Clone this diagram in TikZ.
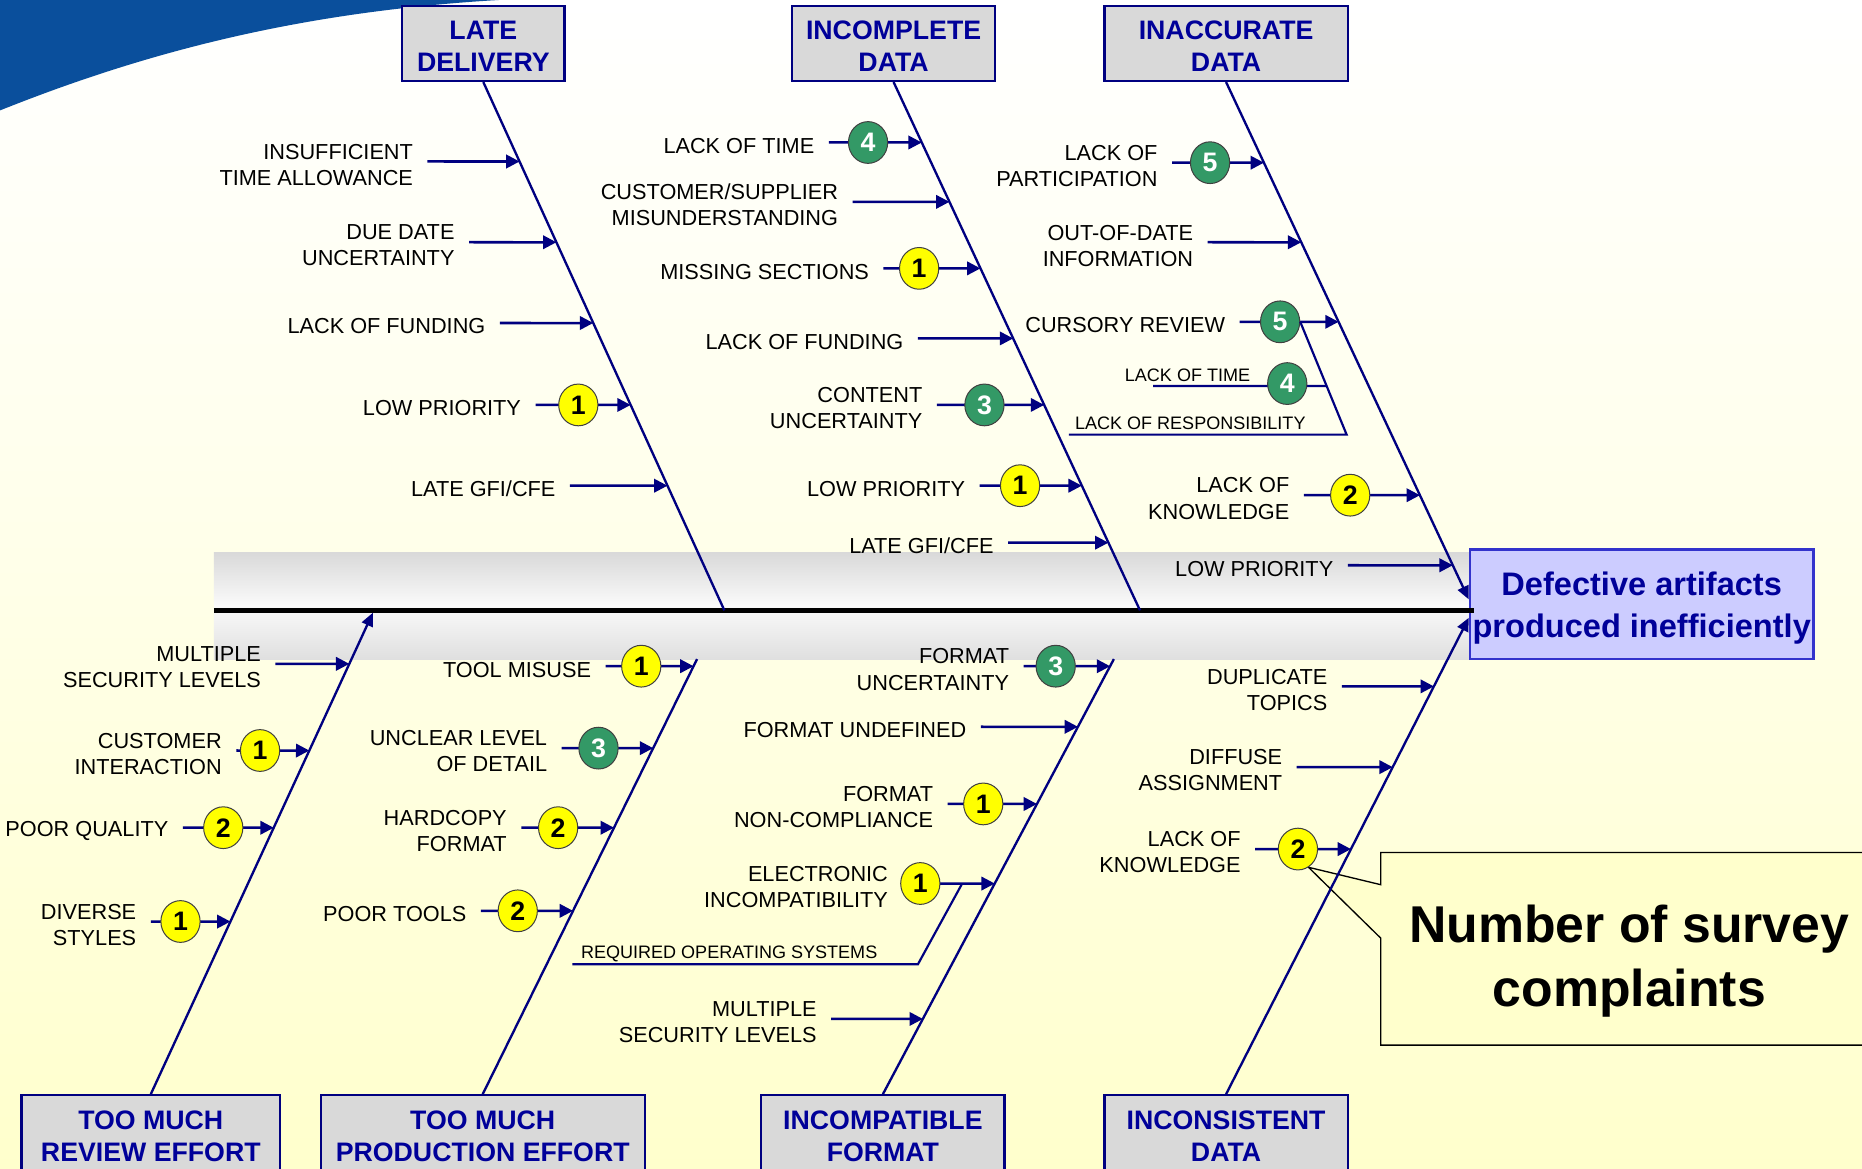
\documentclass[tikz,border=0pt]{standalone}
\usepackage{fontspec}
\setmainfont{Liberation Sans}
\usetikzlibrary{arrows.meta, shapes.geometric, calc, backgrounds}
\definecolor{cnavy}{HTML}{000080}
\definecolor{cink}{HTML}{000099}
\definecolor{cgreybox}{HTML}{D9D9D9}
\definecolor{cdeep}{HTML}{0A4F9C}
\definecolor{cpale}{HTML}{FFFFCC}
\definecolor{clav}{HTML}{CCCCFF}
\definecolor{cedge}{HTML}{3333CC}
\definecolor{cnote}{HTML}{FFFFCC}
\definecolor{fillY}{HTML}{FFFF00}
\definecolor{fillG}{HTML}{339966}
\colorlet{textY}{black}
\colorlet{textG}{white}
\tikzset{
  cat/.style={draw=cnavy, fill=cgreybox, line width=1.4pt, text=cink, font=\bfseries\fontsize{16}{19}\selectfont, align=center, minimum height=45pt, inner sep=0pt, text height=33.9pt},
  effect/.style={draw=cedge, fill=clav, line width=1.6pt, text=cink, font=\bfseries\fontsize{19.5}{25.5}\selectfont, align=center, minimum width=205.5pt, minimum height=65.4pt, inner sep=0pt, text height=43.8pt},
  cause/.style={font=\fontsize{13}{15.6}\selectfont, align=right, inner sep=0pt, anchor=east, yshift=-2pt},
  twiglbl/.style={font=\fontsize{10.8}{13}\selectfont, inner sep=0pt, anchor=base west},
  badge/.style={ellipse, draw=black!75, line width=0.6pt, minimum width=23.5pt, minimum height=25pt, inner sep=0pt, font=\bfseries\fontsize{16}{16}\selectfont},
  bone/.style={draw=cnavy, line width=1.4pt},
  bonetip/.style={bone, -{Triangle[length=8pt,width=7pt]}},
  sub/.style={draw=cnavy, line width=1.5pt, -{Triangle[length=8pt,width=8pt]}},
  twig/.style={draw=cnavy, line width=1.3pt},
  spine/.style={draw=black, line width=2.6pt},
  callout/.style={draw=black, fill=cnote, line width=0.8pt},
  notetext/.style={font=\bfseries\fontsize{31}{38.4}\selectfont, align=center, inner sep=0pt},
}

\begin{document}
\begin{tikzpicture}[x=0.025cm, y=-0.025cm]
  \useasboundingbox (0,0) rectangle (1568,984);
  \node[effect] (effect) at (1382.5,509) {Defective artifacts\\produced inefficiently};
  \foreach \n/\x/\y/\w/\txt in {late/407/36.5/97.4/{LATE\\DELIVERY}, incomplete/752.5/36.5/121.6/{INCOMPLETE\\DATA}, inaccurate/1032.5/36.5/145.8/{INACCURATE\\DATA}, review/127/954/155/{TOO MUCH\\REVIEW EFFORT}, production/406.5/954/194/{TOO MUCH\\PRODUCTION EFFORT}, incompatible/743.5/954/145.8/{INCOMPATIBLE\\FORMAT}, inconsistent/1032.5/954/145.8/{INCONSISTENT\\DATA}}
    \node[cat, minimum width=\w pt] (\n) at (\x,\y) {\txt};
  \coordinate (tail) at (180,514);
  \foreach \n/\bn in {late/b1, incomplete/b2, inaccurate/b3}
    \coordinate (\bn s) at (\n.south);
  \foreach \n/\bn in {review/b4, production/b5, incompatible/b6, inconsistent/b7}
    \coordinate (\bn s) at (\n.north);
  \coordinate (b1e) at (610,514);
  \coordinate (b2e) at (960,514);
  \coordinate (b3e) at ([yshift=3pt]effect.west);
  \coordinate (b4e) at (314,516);
  \coordinate (b5e) at (587,555);
  \coordinate (b6e) at (938,555);
  \coordinate (b7e) at ([yshift=-8pt]effect.west);
  \draw[spine] (tail) -- ([xshift=3pt]effect.west |- tail);
  \draw[bone] (late.south) -- (b1e);
  \draw[bone] (incomplete.south) -- (b2e);
  \draw[bonetip] (inaccurate.south) -- (b3e);
  \draw[bonetip] (review.north) -- (b4e);
  \draw[bone] (production.north) -- (b5e);
  \draw[bone] (incompatible.north) -- (b6e);
  \draw[bonetip] (inconsistent.north) -- (b7e);
  \foreach \bn/\y/\x/\txt/\bx/\nr/\kind [count=\i] in {
    b1/136/348/{INSUFFICIENT\\TIME ALLOWANCE}/0/-/Y,
    b1/204/383/{DUE DATE\\UNCERTAINTY}/0/-/Y,
    b1/272/409/{LACK OF FUNDING}/0/-/Y,
    b1/341/439/{LOW PRIORITY}/487/1/Y,
    b1/409/468/{LATE GFI/CFE}/0/-/Y,
    b2/120/686/{LACK OF TIME}/731/4/G,
    b2/170/706/{CUSTOMER/SUPPLIER\\MISUNDERSTANDING}/0/-/Y,
    b2/226/732/{MISSING SECTIONS}/774/1/Y,
    b2/285/761/{LACK OF FUNDING}/0/-/Y,
    b2/341/777/{CONTENT\\UNCERTAINTY}/829/3/G,
    b2/409/813/{LOW PRIORITY}/859/1/Y,
    b2/457/837/{LATE GFI/CFE}/0/-/Y,
    b3/137/975/{LACK OF\\PARTICIPATION}/1019/5/G,
    b3/204/1005/{OUT-OF-DATE\\INFORMATION}/0/-/Y,
    b3/271/1032/{CURSORY REVIEW}/1078/5/G,
    b3/417/1086/{LACK OF\\KNOWLEDGE}/1137/2/Y,
    b3/476/1123/{LOW PRIORITY}/0/-/Y,
    b4/559/220/{MULTIPLE\\SECURITY LEVELS}/0/-/Y,
    b4/632/187/{CUSTOMER\\INTERACTION}/219/1/Y,
    b4/697/142/{POOR QUALITY}/188/2/Y,
    b4/776/115/{DIVERSE\\STYLES}/152/1/Y,
    b5/561/498/{TOOL MISUSE}/540/1/Y,
    b5/630/461/{UNCLEAR LEVEL\\OF DETAIL}/504/3/G,
    b5/697/427/{HARDCOPY\\FORMAT}/470/2/Y,
    b5/767/393/{POOR TOOLS}/436/2/Y,
    b6/561/850/{FORMAT\\UNCERTAINTY}/889/3/G,
    b6/612/814/{FORMAT UNDEFINED}/0/-/Y,
    b6/677/786/{FORMAT\\NON-COMPLIANCE}/828/1/Y,
    b6/744/748/{ELECTRONIC\\INCOMPATIBILITY}/775/1/Y,
    b6/858/688/{MULTIPLE\\SECURITY LEVELS}/0/-/Y,
    b7/578/1118/{DUPLICATE\\TOPICS}/0/-/Y,
    b7/646/1080/{DIFFUSE\\ASSIGNMENT}/0/-/Y,
    b7/715/1045/{LACK OF\\KNOWLEDGE}/1093/2/Y} {
    \node[cause] (c\i) at (\x,\y) {\txt};
    \coordinate (t\i) at (intersection of \bn s--\bn e and 0,\y--100,\y);
    \draw[sub] ([xshift=8.5pt]c\i.east |- 0,\y) -- (t\i);
    \ifnum\bx>0 \node[badge, fill=fill\kind, text=text\kind] (k\i) at (\bx,\y) {\nr}; \fi
  }
  \coordinate (rbend) at (1134,366);
  \coordinate (rend) at (900,366);
  \draw[twig] (k15.east) -- (rbend) -- (rend);
  \node[twiglbl] (resp) at (905,362) {LACK OF RESPONSIBILITY};
  \node[twiglbl] (ltime) at (947,321) {LACK OF TIME};
  \coordinate (lts) at (971,325);
  \coordinate (lte) at (intersection of k15.east--rbend and 0,325--100,325);
  \draw[twig] (lts) -- (lte);
  \node[badge, fill=fillG, text=textG] (klt) at (1084,323) {4};
  \coordinate (ebend) at (773,812);
  \coordinate (eend) at (482,812);
  \draw[twig] ($(k29.east)!0.4!(t29)$) -- (ebend) -- (eend);
  \node[twiglbl] (ros) at (489,807) {REQUIRED OPERATING SYSTEMS};
  \node[minimum width=293pt, minimum height=115pt, inner sep=0pt] (note) at (1369,799) {};
  \node[notetext] (ntxt) at (1372,809) {Number of survey\\complaints};
  \begin{scope}[on background layer]
    \shade[top color=white, bottom color=cpale, middle color=cpale!45] (0,0) rectangle (1568,984);
    \fill[cdeep] (0,0) -- (0,93) .. controls (120,45) and (250,10) .. (420,0) -- cycle;
    \shade[top color=gray!30, bottom color=gray!25, middle color=gray!4] (tail |- 0,465) rectangle (effect.west |- 0,555);
    \filldraw[callout] (note.north west) -- (note.north east) -- (note.south east) -- (note.south west) -- (note.west |- 0,790) -- (k33.-60) -- (note.west |- 0,745) -- cycle;
  \end{scope}
\end{tikzpicture}
\end{document}
